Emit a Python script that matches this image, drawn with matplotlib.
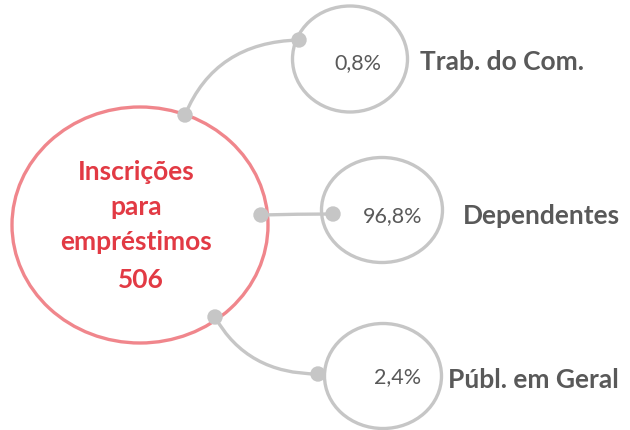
import matplotlib
matplotlib.use("Agg")
import matplotlib.pyplot as plt
from matplotlib.patches import Ellipse, Circle, PathPatch
from matplotlib.path import Path

plt.rcParams['font.family'] = ['Lato', 'DejaVu Sans']

# Data
center_lines = ["Inscrições", "para", "empréstimos", "506"]
categories = ["Trab. do Com.", "Dependentes", "Públ. em Geral"]
shares = ["0,8%", "96,8%", "2,4%"]

W, H = 630, 430
fig = plt.figure(figsize=(W / 100, H / 100), dpi=100)
ax = fig.add_axes([0, 0, 1, 1])
ax.set_xlim(0, W)
ax.set_ylim(H, 0)
ax.axis('off')

grey = '#C6C6C6'
pink = '#F0868C'
red = '#E23A44'
dark = '#595959'

# main ellipse
ax.add_patch(Ellipse((140, 225), 256, 236, fill=False, ec=pink, lw=2.4, zorder=2))

# small ellipses (center, w, h)
small = [((350, 59), 115, 106), ((382, 210), 121, 105), ((383, 376), 117, 105)]
for (c, w, h) in small:
    ax.add_patch(Ellipse(c, w, h, fill=False, ec=grey, lw=2.4, zorder=2))

# connectors (quadratic beziers)
conns = [((185, 115), (215, 42), (299, 40)),
         ((261, 215), (297, 214), (333, 214)),
         ((215, 317), (247, 374), (318, 374))]
for p0, p1, p2 in conns:
    path = Path([p0, p1, p2], [Path.MOVETO, Path.CURVE3, Path.CURVE3])
    ax.add_patch(PathPatch(path, fill=False, ec=grey, lw=2.4, zorder=3))
    for p in (p0, p2):
        ax.add_patch(Circle(p, 7, color=grey, zorder=4))

# center text
baselines = [180, 215, 250, 288]
xs = [136, 136, 136, 141]
for t, x, y in zip(center_lines, xs, baselines):
    ax.text(x, y, t, ha='center', va='baseline', color=red, fontsize=19,
            fontweight='bold', zorder=5)

# percentages
pct_pos = [(358, 63), (393, 216), (398, 377)]
for t, (x, y) in zip(shares, pct_pos):
    ax.text(x, y, t, ha='center', va='center', color=dark, fontsize=15.5, zorder=5)

# labels
lab_pos = [(420, 62), (463, 216), (448, 380)]
for t, (x, y) in zip(categories, lab_pos):
    ax.text(x, y, t, ha='left', va='center', color=dark, fontsize=19,
            fontweight='bold', zorder=5)

fig.savefig('out.png', dpi=100)
